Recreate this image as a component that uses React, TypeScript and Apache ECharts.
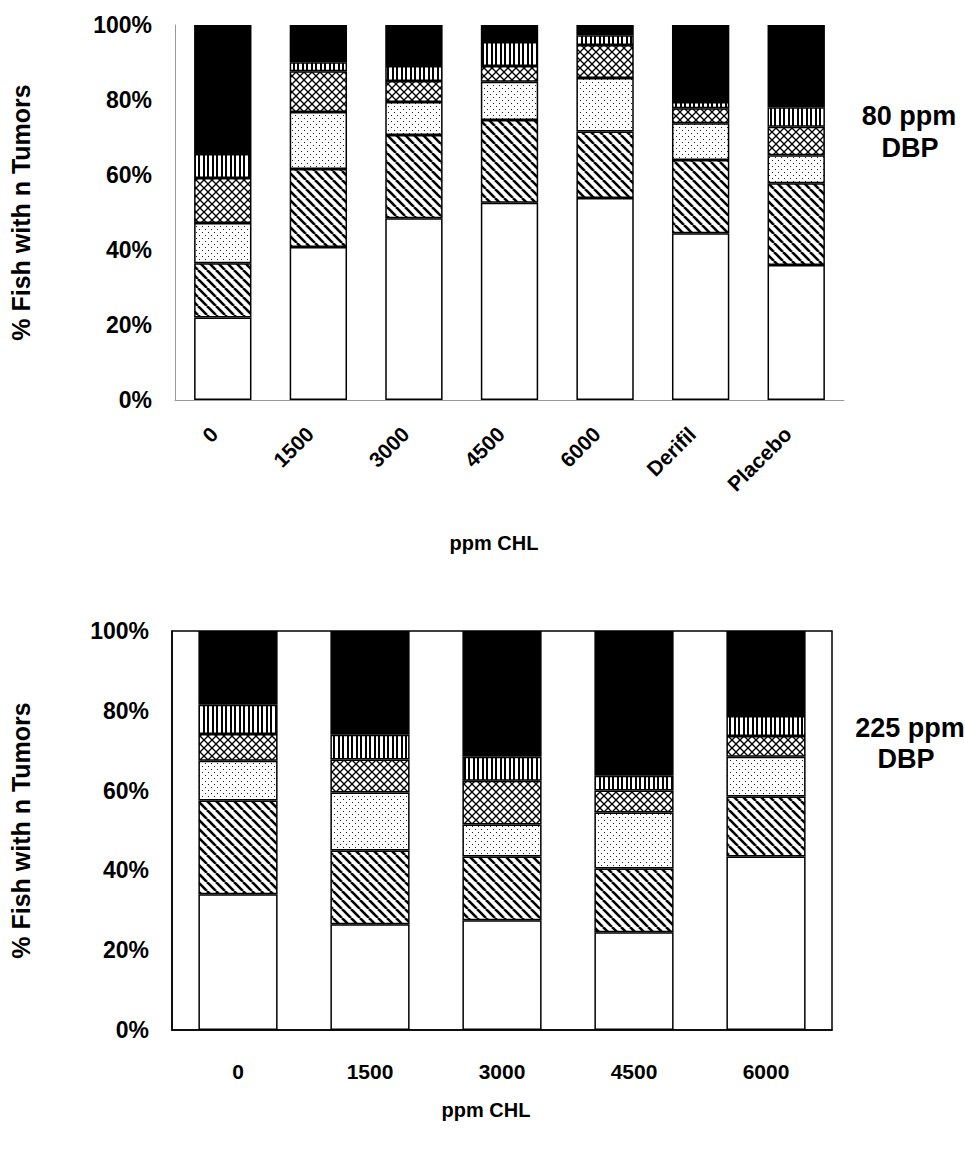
import React, { useEffect, useRef } from "react";
import * as echarts from "echarts";

const topCategories = ["0", "1500", "3000", "4500", "6000", "Derifil", "Placebo"];
const bottomCategories = ["0", "1500", "3000", "4500", "6000"];
const seriesNames = ["0 tumors", "1 tumor", "2 tumors", "3 tumors", "4 tumors", "5+ tumors"];

// 80 ppm DBP: % of fish per tumour count (stacked bottom to top)
const top0 = [22.0, 40.8, 48.5, 52.6, 53.9, 44.5, 36.0];
const top1 = [14.5, 20.8, 22.2, 22.1, 17.7, 19.5, 21.8];
const top2 = [10.7, 15.2, 8.8, 10.2, 14.3, 9.8, 7.5];
const top3 = [12.0, 10.9, 5.6, 4.2, 8.8, 4.0, 7.6];
const top4 = [6.4, 2.4, 4.0, 6.4, 2.6, 1.7, 5.2];
const top5 = [34.4, 9.9, 10.9, 4.5, 2.7, 20.5, 21.9];

// 225 ppm DBP
const bot0 = [34.0, 26.5, 27.5, 24.5, 43.5];
const bot1 = [23.5, 18.5, 16.0, 16.0, 15.0];
const bot2 = [10.0, 14.5, 8.0, 14.0, 10.0];
const bot3 = [6.7, 8.3, 11.0, 5.5, 5.2];
const bot4 = [7.3, 6.2, 6.0, 3.7, 5.0];
const bot5 = [18.5, 26.0, 31.5, 36.3, 21.3];

const topLabel = ["80 ppm", "DBP"];
const bottomLabel = ["225 ppm", "DBP"];
const xTitle = "ppm CHL";
const yTitle = "% Fish with n Tumors";

const FONT = "Liberation Sans";

function makeTile(w: number, h: number, draw: (ctx: CanvasRenderingContext2D) => void) {
  const c = document.createElement("canvas");
  c.width = w;
  c.height = h;
  const ctx = c.getContext("2d") as CanvasRenderingContext2D;
  ctx.fillStyle = "#fff";
  ctx.fillRect(0, 0, w, h);
  draw(ctx);
  return { image: c, repeat: "repeat", imageWidth: w, imageHeight: h } as any;
}

function makeFills() {
  const diag = makeTile(9, 9, (ctx) => {
    ctx.strokeStyle = "#000";
    ctx.lineWidth = 2.6;
    for (const o of [-9, 0, 9]) {
      ctx.beginPath();
      ctx.moveTo(o, 0);
      ctx.lineTo(o + 9, 9);
      ctx.stroke();
    }
  });
  const dots = makeTile(6, 6, (ctx) => {
    ctx.fillStyle = "#222";
    ctx.fillRect(1, 1, 1, 1);
    ctx.fillRect(4, 4, 1, 1);
  });
  const cross = makeTile(8, 8, (ctx) => {
    ctx.strokeStyle = "#000";
    ctx.lineWidth = 1.3;
    for (const o of [-8, 0, 8]) {
      ctx.beginPath();
      ctx.moveTo(o, 0);
      ctx.lineTo(o + 8, 8);
      ctx.stroke();
      ctx.beginPath();
      ctx.moveTo(o + 8, 0);
      ctx.lineTo(o, 8);
      ctx.stroke();
    }
  });
  const vert = makeTile(9, 4, (ctx) => {
    ctx.fillStyle = "#000";
    ctx.fillRect(0, 0, 2, 4);
    ctx.fillRect(5, 0, 2, 4);
  });
  return ["#ffffff", diag, dots, cross, vert, "#000000"];
}

export default function App() {
  const ref = useRef<HTMLDivElement>(null);
  useEffect(() => {
    if (!ref.current) return;
    const chart = echarts.init(ref.current, undefined, { renderer: "svg" });
    const fills = makeFills();
    const topData = [top0, top1, top2, top3, top4, top5];
    const botData = [bot0, bot1, bot2, bot3, bot4, bot5];

    const series: any[] = [];
    topData.forEach((d, i) => {
      series.push({
        name: seriesNames[i],
        type: "bar",
        stack: "top",
        xAxisIndex: 0,
        yAxisIndex: 0,
        data: d,
        barCategoryGap: "40%",
        itemStyle: { color: fills[i], borderColor: "#000", borderWidth: 1.5 },
      });
    });
    botData.forEach((d, i) => {
      series.push({
        name: seriesNames[i],
        type: "bar",
        stack: "bot",
        xAxisIndex: 1,
        yAxisIndex: 1,
        data: d,
        barCategoryGap: "40%",
        itemStyle: { color: fills[i], borderColor: "#000", borderWidth: 1.5 },
      });
    });

    const yLabel = {
      formatter: "{value}%",
      fontSize: 23,
      fontWeight: "bold",
      fontFamily: FONT,
      color: "#000",
      margin: 23,
    };
    const yName = {
      fontSize: 25,
      fontWeight: "bold",
      fontFamily: FONT,
      color: "#000",
    };
    const textStyle = (size: number) => ({
      fontSize: size,
      fontWeight: "bold",
      fontFamily: FONT,
      fill: "#000",
      textAlign: "center",
      textVerticalAlign: "middle",
    });

    chart.setOption({
      animation: false,
      backgroundColor: "#fff",
      grid: [
        { left: 173, top: 25, width: 671, height: 375, show: false },
        {
          left: 170,
          top: 631,
          width: 662,
          height: 399,
          show: true,
          borderColor: "#000",
          borderWidth: 1.5,
          backgroundColor: "transparent",
        },
      ],
      xAxis: [
        {
          type: "category",
          gridIndex: 0,
          data: topCategories,
          axisLine: { lineStyle: { color: "#999", width: 1 } },
          axisTick: { show: false },
          axisLabel: {
            interval: 0,
            rotate: 45,
            fontSize: 21,
            fontWeight: "bold",
            fontFamily: FONT,
            color: "#000",
            margin: 22,
            padding: [0, 12, 0, 0],
          },
        },
        {
          type: "category",
          gridIndex: 1,
          data: bottomCategories,
          axisLine: { lineStyle: { color: "#000", width: 1.5 } },
          axisTick: { show: false },
          axisLabel: {
            interval: 0,
            fontSize: 21,
            fontWeight: "bold",
            fontFamily: FONT,
            color: "#000",
            margin: 31,
          },
        },
      ],
      yAxis: [
        {
          type: "value",
          gridIndex: 0,
          min: 0,
          max: 100,
          interval: 20,
          splitLine: { show: false },
          axisTick: { show: false },
          axisLine: { show: true, lineStyle: { color: "#999", width: 1 } },
          axisLabel: yLabel,
          name: yTitle,
          nameLocation: "middle",
          nameGap: 142,
          nameTextStyle: yName,
        },
        {
          type: "value",
          gridIndex: 1,
          min: 0,
          max: 100,
          interval: 20,
          splitLine: { show: false },
          axisTick: { show: false },
          axisLine: { show: true, lineStyle: { color: "#000", width: 1.5 } },
          axisLabel: yLabel,
          name: yTitle,
          nameLocation: "middle",
          nameGap: 139,
          nameTextStyle: yName,
        },
      ],
      graphic: [
        { type: "text", x: 909, y: 116, style: { text: topLabel[0], ...textStyle(27) } },
        { type: "text", x: 910, y: 148, style: { text: topLabel[1], ...textStyle(27) } },
        { type: "text", x: 910, y: 728, style: { text: bottomLabel[0], ...textStyle(27) } },
        { type: "text", x: 906, y: 759, style: { text: bottomLabel[1], ...textStyle(27) } },
        { type: "text", x: 494, y: 543, style: { text: xTitle, ...textStyle(20) } },
        { type: "text", x: 486, y: 1110, style: { text: xTitle, ...textStyle(20) } },
      ],
      series,
    });
    return () => chart.dispose();
  }, []);
  return (
    <div
      ref={ref}
      style={{ position: "absolute", left: 0, top: 0, width: 965, height: 1151 }}
    />
  );
}
